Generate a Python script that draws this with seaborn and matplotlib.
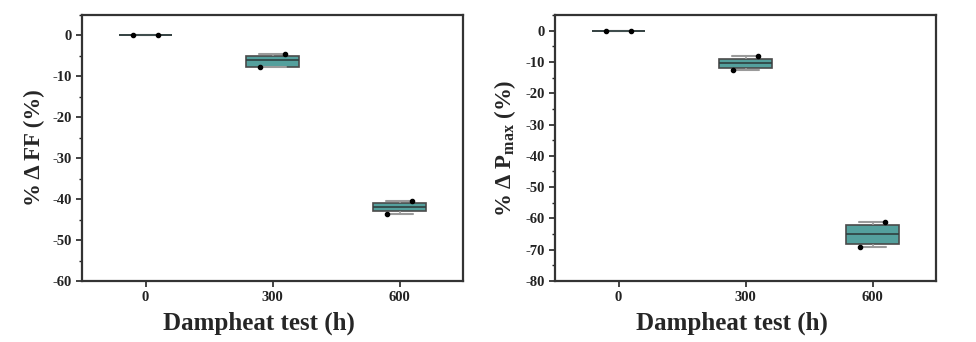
import matplotlib
matplotlib.use("Agg")
import matplotlib.pyplot as plt
import seaborn as sns
import pandas as pd
import numpy as np
from matplotlib.ticker import MultipleLocator

# ---- data ----
categories = ["0", "300", "600"]
# five-number values per group: min, Q1, median, Q3, max
ff_0 = [0.0, 0.0, 0.0, 0.0, 0.0]
ff_300 = [-7.8, -7.6, -6.1, -4.9, -4.6]
ff_600 = [-43.7, -42.9, -42.0, -41.0, -40.5]
pmax_0 = [0.0, 0.0, 0.0, 0.0, 0.0]
pmax_300 = [-12.5, -11.9, -10.4, -9.0, -8.2]
pmax_600 = [-69.1, -68.3, -65.1, -62.1, -61.2]

ff_ticks = [0, -10, -20, -30, -40, -50, -60]
pmax_ticks = [0, -10, -20, -30, -40, -50, -60, -70, -80]

sns.set_theme(style="white")
plt.rcParams["font.family"] = ["Liberation Serif", "DejaVu Serif"]
plt.rcParams["mathtext.fontset"] = "custom"
plt.rcParams["mathtext.rm"] = "Liberation Serif:bold"
plt.rcParams["mathtext.bf"] = "Liberation Serif:bold"
plt.rcParams["mathtext.it"] = "Liberation Serif:bold"

fig = plt.figure(figsize=(9.76, 3.42), dpi=100)
ax1 = fig.add_axes([82 / 976, 1 - 281 / 342, 381 / 976, 266 / 342])
ax2 = fig.add_axes([555 / 976, 1 - 281 / 342, 381 / 976, 266 / 342])

box_color = "#54a09d"
edge = "#4a4a4a"


def make_df(groups):
    rows = []
    for cat, vals in zip(categories, groups):
        for v in vals:
            rows.append({"cat": cat, "val": v})
    return pd.DataFrame(rows)


def draw(ax, groups, ylim, ticks, ylabel):
    df = make_df(groups)
    sns.boxplot(data=df, x="cat", y="val", order=categories, ax=ax,
                width=0.41, whis=(0, 100), color=box_color, saturation=1,
                linewidth=1.2, linecolor=edge,
                boxprops=dict(edgecolor=edge),
                medianprops=dict(color="#2f3f3f", linewidth=1.2),
                whiskerprops=dict(color="#9a9a9a", linewidth=1.2),
                capprops=dict(color="#9a9a9a", linewidth=1.5),
                showfliers=False)
    # min / max points slightly offset
    for i, vals in enumerate(groups):
        ax.scatter([i - 0.1], [min(vals)], s=9, color="black", zorder=5)
        ax.scatter([i + 0.1], [max(vals)], s=9, color="black", zorder=5)
    ax.set_xlim(-0.5, 2.5)
    ax.set_ylim(*ylim)
    ax.set_yticks(ticks)
    ax.set_yticklabels([str(t) for t in ticks])
    ax.yaxis.set_minor_locator(MultipleLocator(5))
    ax.tick_params(axis="both", which="major", direction="out", length=4,
                   width=1.2, labelsize=10.5, left=True, bottom=True,
                   colors="#222222")
    ax.tick_params(axis="y", which="minor", direction="out", length=2.5,
                   width=1.0, left=True, colors="#222222")
    for lab in ax.get_xticklabels() + ax.get_yticklabels():
        lab.set_fontweight("bold")
    for sp in ax.spines.values():
        sp.set_linewidth(1.6)
        sp.set_color("#333333")
    ax.set_xlabel("Dampheat test (h)", fontsize=18, fontweight="bold")
    ax.xaxis.set_label_coords(0.465, -0.115, transform=ax.transAxes)
    ax.xaxis.label.set_va("top")
    ax.set_ylabel(ylabel, fontsize=16.5, fontweight="bold", labelpad=5)


draw(ax1, [ff_0, ff_300, ff_600], (-60, 5), ff_ticks, "% Δ FF (%)")
draw(ax2, [pmax_0, pmax_300, pmax_600], (-80, 5), pmax_ticks,
     r"% Δ P$_{\mathrm{max}}$ (%)")

fig.savefig("out.png", dpi=100)
